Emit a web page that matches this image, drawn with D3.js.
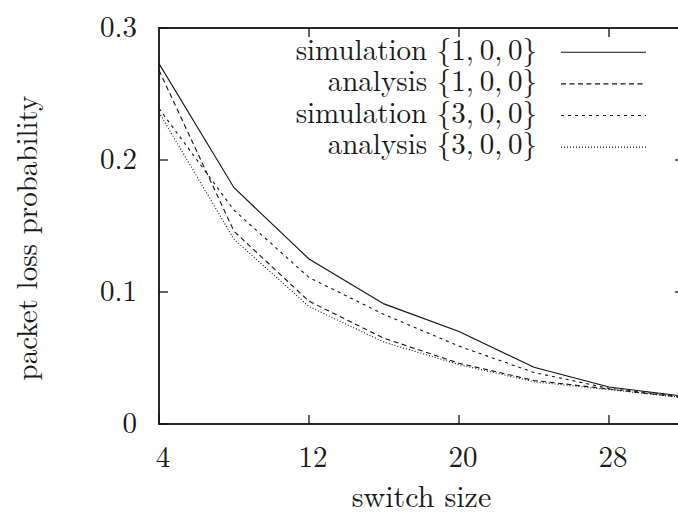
<!DOCTYPE html>
<html>
<head>
<meta charset="utf-8">
<script src="https://cdn.jsdelivr.net/npm/d3@7"></script>
<style>
  html, body { margin: 0; padding: 0; background: #fff; }
  svg { display: block; }
</style>
</head>
<body>
<svg id="chart" width="678" height="518"></svg>
<script>
// switch sizes on the x axis
const switchSizes = [4, 8, 12, 16, 20, 24, 28, 32];

// packet loss probability for each configuration
const simulation100 = [0.273, 0.179, 0.125, 0.091, 0.070, 0.043, 0.028, 0.021];
const analysis100   = [0.268, 0.146, 0.093, 0.065, 0.046, 0.033, 0.0265, 0.020];
const simulation300 = [0.239, 0.162, 0.111, 0.083, 0.059, 0.039, 0.027, 0.0205];
const analysis300   = [0.236, 0.140, 0.089, 0.062, 0.045, 0.032, 0.026, 0.020];

const seriesNames = [
  "simulation {1,\u20090,\u20090}",
  "analysis {1,\u20090,\u20090}",
  "simulation {3,\u20090,\u20090}",
  "analysis {3,\u20090,\u20090}"
];
const seriesValues = [simulation100, analysis100, simulation300, analysis300];
const seriesDash = ["none", "5,3.5", "3,4", "1,2"];

const xTicks = [4, 12, 20, 28];
const xTicksTop = [12, 20, 28];
const yTicks = [0, 0.1, 0.2, 0.3];

const FONT = '"Latin Modern Roman", "CMU Serif", "Liberation Serif", serif';
const INK = "#1a1a1a";

const svg = d3.select("#chart");
const plotLeft = 159, plotRight = 684, plotTop = 28, plotBottom = 424;

const x = d3.scaleLinear().domain([4, 32]).range([plotLeft, plotRight]);
const y = d3.scaleLinear().domain([0, 0.3]).range([plotBottom, plotTop]);

// clip for the data lines
svg.append("defs").append("clipPath").attr("id", "plotClip")
  .append("rect").attr("x", plotLeft).attr("y", plotTop)
  .attr("width", plotRight - plotLeft).attr("height", plotBottom - plotTop);

// inward ticks on all four sides
const tickLen = 9;
const axisG = svg.append("g").attr("stroke", "#111").attr("stroke-width", 1.3);
yTicks.forEach(v => {
  axisG.append("line").attr("x1", plotLeft).attr("x2", plotLeft + tickLen).attr("y1", y(v)).attr("y2", y(v));
  axisG.append("line").attr("x1", plotRight).attr("x2", plotRight - tickLen).attr("y1", y(v)).attr("y2", y(v));
});
xTicks.forEach(v => {
  axisG.append("line").attr("x1", x(v)).attr("x2", x(v)).attr("y1", plotBottom).attr("y2", plotBottom - tickLen);
});
xTicksTop.forEach(v => {
  axisG.append("line").attr("x1", x(v)).attr("x2", x(v)).attr("y1", plotTop).attr("y2", plotTop + tickLen);
});

// tick labels
svg.append("g").selectAll("text").data(yTicks).join("text")
  .attr("x", 137).attr("y", d => y(d)).attr("dy", "0.32em")
  .attr("text-anchor", "end").attr("font-size", 29)
  .style("font-family", FONT).attr("fill", INK)
  .text(d => d === 0 ? "0" : d3.format(".1f")(d));

svg.append("g").selectAll("text").data(xTicks).join("text")
  .attr("x", d => x(d) + 4).attr("y", 467)
  .attr("text-anchor", "middle").attr("font-size", 29)
  .style("font-family", FONT).attr("fill", INK)
  .text(d => d);

// axis titles
svg.append("text").attr("x", x(18)).attr("y", 507)
  .attr("text-anchor", "middle").attr("font-size", 30)
  .style("font-family", FONT).attr("fill", INK).text("switch size");
svg.append("text").attr("transform", "translate(37,238) rotate(-90)")
  .attr("text-anchor", "middle").attr("font-size", 29)
  .style("font-family", FONT).attr("fill", INK).text("packet loss probability");

// data lines
const line = d3.line().x((d, i) => x(switchSizes[i])).y(d => y(d));
svg.append("g").attr("clip-path", "url(#plotClip)")
  .selectAll("path").data(seriesValues).join("path")
  .attr("d", line)
  .attr("fill", "none").attr("stroke", "#111").attr("stroke-width", 1.1)
  .attr("stroke-dasharray", (d, i) => seriesDash[i]);

// frame
svg.append("rect").attr("x", plotLeft).attr("y", plotTop)
  .attr("width", plotRight - plotLeft).attr("height", plotBottom - plotTop)
  .attr("fill", "none").attr("stroke", "#111").attr("stroke-width", 1.8);

// legend
const legend = svg.append("g");
seriesNames.forEach((name, i) => {
  const ly = 52.3 + i * 31.6;
  legend.append("text").attr("x", 537).attr("y", ly + 7.3)
    .attr("text-anchor", "end").attr("font-size", 29)
    .style("font-family", FONT).attr("fill", INK).text(name);
  legend.append("line").attr("x1", 561).attr("x2", 646).attr("y1", ly).attr("y2", ly)
    .attr("stroke", "#111").attr("stroke-width", 1.1).attr("stroke-dasharray", seriesDash[i]);
});
</script>
</body>
</html>
